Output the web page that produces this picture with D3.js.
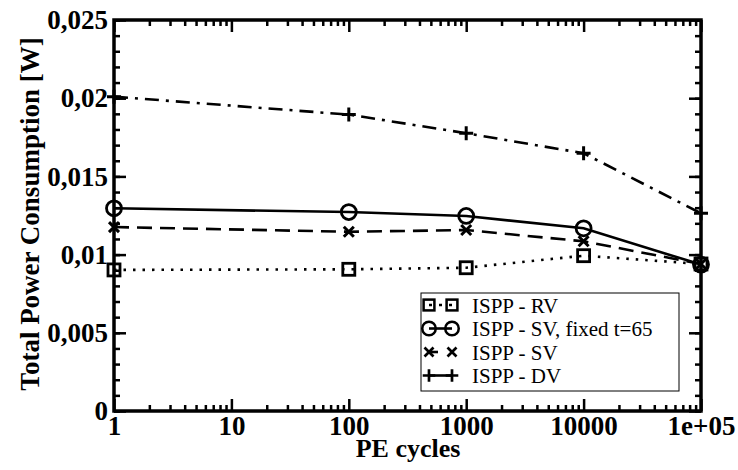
<!DOCTYPE html>
<html>
<head>
<meta charset="utf-8">
<script src="https://cdn.jsdelivr.net/npm/d3@7"></script>
<style>
  body { margin: 0; background: #fff; }
  svg { display: block; }
  svg text { font-family: "Liberation Serif", "Times New Roman", Times, serif; fill: #000; }
  .bold { font-weight: bold; }
</style>
</head>
<body>
<svg id="chart" width="738" height="470"></svg>
<script>
// data
var peCycles = [1, 100, 1000, 10000, 100000];
var rvValues = [0.00902, 0.00906, 0.00916, 0.00993, 0.00940];
var svFixedValues = [0.01296, 0.01272, 0.01247, 0.01168, 0.00936];
var svValues = [0.01176, 0.01146, 0.01157, 0.01085, 0.00940];
var dvValues = [0.02010, 0.01895, 0.01776, 0.01648, 0.01264];
var xTickLabels = ["1", "10", "100", "1000", "10000", "1e+05"];
var yTickLabels = ["0", "0,005", "0,01", "0,015", "0,02", "0,025"];

var seriesNames = ["ISPP - RV", "ISPP - SV, fixed t=65", "ISPP - SV", "ISPP - DV"];
var seriesValues = [rvValues, svFixedValues, svValues, dvValues];
var seriesMarks = ["square", "circle", "cross", "plus"];
var seriesDash = ["2.5,7", null, "15,8", "14,7,3,7"];
var legendDash = ["3,7", null, "9,20", null];

var svg = d3.select("#chart");
var plotL = 114, plotR = 701, plotT = 20, plotB = 411;

var x = d3.scaleLog().domain([1, 100000]).range([plotL, plotR]);
var y = d3.scaleLinear().domain([0, 0.025]).range([plotB, plotT]);

var majorX = [1, 10, 100, 1000, 10000, 100000];
var minorX = [];
for (var d = 1; d < 100000; d *= 10) {
  for (var k = 2; k < 10; k++) minorX.push(d * k);
}
var majorY = d3.range(0, 0.0251, 0.005);
var minorY = d3.range(0, 0.0251, 0.001);

// axis helper: ticks point into the plot
function tickAxis(axisGen, tx, ty) {
  var g = svg.append("g").attr("transform", "translate(" + tx + "," + ty + ")").call(axisGen);
  g.select(".domain").remove();
  g.attr("font-family", null).attr("font-size", null);
  g.selectAll("line").attr("stroke", "#000").attr("stroke-width", 2.5);
  return g;
}

// minor ticks
tickAxis(d3.axisBottom(x).tickValues(minorX).tickSize(-6).tickFormat(""), 0, plotB);
tickAxis(d3.axisTop(x).tickValues(minorX).tickSize(-6).tickFormat(""), 0, plotT);
tickAxis(d3.axisLeft(y).tickValues(minorY).tickSize(-6).tickFormat(""), plotL, 0);
tickAxis(d3.axisRight(y).tickValues(minorY).tickSize(-6).tickFormat(""), plotR, 0);

// major ticks with labels
var xb = tickAxis(d3.axisBottom(x).tickValues(majorX).tickSize(-12).tickPadding(5)
  .tickFormat(function(v, i) { return xTickLabels[i]; }), 0, plotB);
tickAxis(d3.axisTop(x).tickValues(majorX).tickSize(-12).tickFormat(""), 0, plotT);
var yl = tickAxis(d3.axisLeft(y).tickValues(majorY).tickSize(-12).tickPadding(6)
  .tickFormat(function(v, i) { return yTickLabels[i]; }), plotL, 0);
tickAxis(d3.axisRight(y).tickValues(majorY).tickSize(-12).tickFormat(""), plotR, 0);

xb.selectAll("text").classed("bold", true).style("font-size", "27px");
yl.selectAll("text").classed("bold", true).style("font-size", "27px").attr("dy", "0.32em");

// frame
svg.append("rect").attr("x", plotL).attr("y", plotT)
  .attr("width", plotR - plotL).attr("height", plotB - plotT)
  .attr("fill", "none").attr("stroke", "#000").attr("stroke-width", 3.5);

// axis titles
svg.append("text").attr("class", "bold").attr("x", 408).attr("y", 457)
  .attr("text-anchor", "middle").style("font-size", "26px")
  .text("PE cycles");
svg.append("text").attr("class", "bold")
  .attr("transform", "translate(39,214) rotate(-90)")
  .attr("text-anchor", "middle").style("font-size", "27px")
  .text("Total Power Consumption [W]");

function drawMark(g, type, cx, cy) {
  if (type === "square") {
    g.append("rect").attr("x", cx - 6).attr("y", cy - 6).attr("width", 12).attr("height", 12)
      .attr("fill", "none").attr("stroke", "#000").attr("stroke-width", 2.8);
  } else if (type === "circle") {
    g.append("circle").attr("cx", cx).attr("cy", cy).attr("r", 7.5)
      .attr("fill", "none").attr("stroke", "#000").attr("stroke-width", 2.8);
  } else if (type === "cross") {
    g.append("path").attr("d", "M" + (cx - 5) + "," + (cy - 5) + "L" + (cx + 5) + "," + (cy + 5) +
      "M" + (cx - 5) + "," + (cy + 5) + "L" + (cx + 5) + "," + (cy - 5))
      .attr("stroke", "#000").attr("stroke-width", 3);
  } else {
    g.append("path").attr("d", "M" + (cx - 7) + "," + cy + "L" + (cx + 7) + "," + cy +
      "M" + cx + "," + (cy - 7) + "L" + cx + "," + (cy + 7))
      .attr("stroke", "#000").attr("stroke-width", 3);
  }
}

var line = d3.line().x(function(d) { return x(d[0]); }).y(function(d) { return y(d[1]); });

seriesValues.forEach(function(vals, s) {
  var pts = peCycles.map(function(c, i) { return [c, vals[i]]; });
  var g = svg.append("g");
  g.append("path").datum(pts).attr("d", line)
    .attr("fill", "none").attr("stroke", "#000").attr("stroke-width", 2.6)
    .attr("stroke-dasharray", seriesDash[s]);
  pts.forEach(function(p) { drawMark(g, seriesMarks[s], x(p[0]), y(p[1])); });
});

// legend
var lg = svg.append("g");
lg.append("rect").attr("x", 421).attr("y", 293).attr("width", 258).attr("height", 98)
  .attr("fill", "#fff").attr("stroke", "#000").attr("stroke-width", 1);
seriesNames.forEach(function(name, s) {
  var ly = 305 + s * 23.5;
  var g = lg.append("g");
  g.append("line").attr("x1", 429).attr("x2", 452).attr("y1", ly).attr("y2", ly)
    .attr("stroke", "#000").attr("stroke-width", 2.6)
    .attr("stroke-dasharray", legendDash[s]);
  var sc = 0.9;
  var mg = g.append("g").attr("transform", "translate(429," + ly + ") scale(" + sc + ")");
  drawMark(mg, seriesMarks[s], 0, 0);
  var mg2 = g.append("g").attr("transform", "translate(452," + ly + ") scale(" + sc + ")");
  drawMark(mg2, seriesMarks[s], 0, 0);
  g.append("text").attr("x", 472).attr("y", ly + 7.5).style("font-size", "21px").text(name);
});
</script>
</body>
</html>
